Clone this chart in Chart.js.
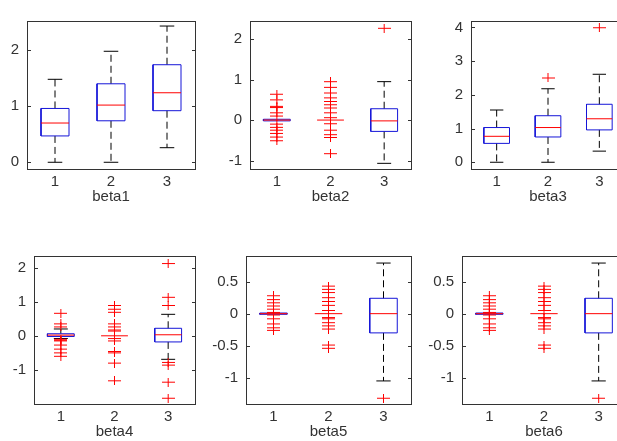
<!DOCTYPE html>
<html>
<head>
<meta charset="utf-8">
<script src="https://cdn.jsdelivr.net/npm/chart.js@4"></script>
<style>
  html, body { margin: 0; background: #fff; overflow: hidden; }
  #fig { position: relative; width: 617px; height: 441px; overflow: hidden; }
  #fig canvas { position: absolute; }
</style>
</head>
<body>
<div id="fig"></div>
<script>
// values (one entry per subplot, three groups each)
const categories = ['1', '2', '3'];
const titles = ['beta1', 'beta2', 'beta3', 'beta4', 'beta5', 'beta6'];
const yTicks = [[0, 1, 2], [-1, 0, 1, 2], [0, 1, 2, 3, 4], [-1, 0, 1, 2], [-1, -0.5, 0, 0.5], [-1, -0.5, 0, 0.5]];
const yLimits = [[-0.12, 2.52], [-1.21, 2.45], [-0.2, 4.19], [-2.0, 2.34], [-1.41, 0.9], [-1.41, 0.9]];

const lowerWhisker = [[0, 0, 0.26], [-0.02, 0, -1.07], [0, 0, 0.33], [-0.08, 0, -0.69], [-0.01, 0, -1.05], [-0.01, 0, -1.05]];
const q1 = [[0.47, 0.74, 0.92], [-0.02, 0, -0.28], [0.56, 0.75, 0.96], [-0.02, 0, -0.18], [-0.01, 0, -0.3], [-0.01, 0, -0.3]];
const median = [[0.7, 1.02, 1.24], [0, 0, -0.02], [0.77, 1.03, 1.29], [0.02, 0, 0.03], [0, 0, 0], [0, 0, 0]];
const q3 = [[0.96, 1.4, 1.74], [0.02, 0, 0.28], [1.03, 1.38, 1.72], [0.06, 0, 0.22], [0.01, 0, 0.24], [0.01, 0, 0.24]];
const upperWhisker = [[1.48, 1.98, 2.43], [0.02, 0, 0.95], [1.55, 2.18, 2.61], [0.2, 0, 0.63], [0.01, 0, 0.79], [0.01, 0, 0.79]];

const outliers = [
  [[], [], []],
  [[0.64, 0.5, 0.34, 0.31, 0.18, 0.1, -0.1, -0.18, -0.25, -0.33, -0.42, -0.51],
   [0.95, 0.81, 0.67, 0.55, 0.46, 0.38, 0.3, 0.18, 0.06, -0.09, -0.25, -0.36, -0.43, -0.83],
   [2.27]],
  [[], [2.5], [3.99]],
  [[0.66, 0.35, 0.26, -0.1, -0.13, -0.15, -0.27, -0.39, -0.5, -0.6],
   [0.89, 0.78, 0.69, 0.35, 0.26, 0.17, 0.14, -0.08, -0.15, -0.46, -0.5, -0.8, -1.32],
   [2.12, 1.13, 0.89, -0.78, -0.86, -1.36, -1.83]],
  [[0.28, 0.22, 0.17, 0.12, 0.07, 0.02, -0.02, -0.08, -0.16, -0.22, -0.26],
   [0.43, 0.38, 0.33, 0.25, 0.19, 0.13, 0.05, -0.06, -0.08, -0.14, -0.19, -0.24, -0.49, -0.54],
   [-1.32]],
  [[0.28, 0.22, 0.17, 0.12, 0.07, 0.02, -0.02, -0.08, -0.16, -0.22, -0.26],
   [0.43, 0.38, 0.33, 0.25, 0.19, 0.13, 0.05, -0.06, -0.08, -0.14, -0.19, -0.24, -0.49, -0.54],
   [-1.32]],
];

// plot area of each subplot on the page: left, top, right, bottom
const panelBoxes = [
  [27, 14, 195, 169], [250, 14, 411, 169], [471, 14, 625, 169],
  [34, 249, 195, 404], [246, 249, 411, 404], [462, 249, 626, 404],
];
const AXIS_W = 40, AXIS_H = 40, PAD = 10;
const BOX_HALF = 0.25, CAP_HALF = 0.13;
const FONT = { family: '"Liberation Sans", Arial, sans-serif', size: 15 };

// red "+" marker, a bit wider than tall like in the picture
const plus = document.createElement('canvas');
plus.width = 13;
plus.height = 9;
const g = plus.getContext('2d');
g.strokeStyle = '#ff0000';
g.lineWidth = 1;
g.beginPath();
g.moveTo(0, 4.5); g.lineTo(13, 4.5);
g.moveTo(6.5, 0); g.lineTo(6.5, 9);
g.stroke();

// polylines -> one dataset, broken by null points
function polylines(list) {
  const out = [];
  list.forEach((pts) => {
    pts.forEach(([x, y]) => out.push({ x, y }));
    out.push({ x: pts[0][0], y: null });
  });
  return out;
}

const frame = {
  id: 'frame',
  afterDraw(chart) {
    const { ctx, chartArea: a, scales: { y } } = chart;
    ctx.save();
    ctx.strokeStyle = '#333';
    ctx.lineWidth = 1;
    ctx.strokeRect(a.left + 0.5, a.top + 0.5, a.right - a.left, a.bottom - a.top);
    ctx.beginPath();
    y.ticks.forEach((tk) => {
      const py = Math.round(y.getPixelForValue(tk.value)) + 0.5;
      ctx.moveTo(a.left, py); ctx.lineTo(a.left + 4, py);
      ctx.moveTo(a.right + 1, py); ctx.lineTo(a.right - 3, py);
    });
    ctx.stroke();
    ctx.restore();
  },
};

const fig = document.getElementById('fig');

panelBoxes.forEach(([l, t, r, b], p) => {
  const cv = document.createElement('canvas');
  cv.width = (r - l) + AXIS_W + PAD;
  cv.height = (b - t) + AXIS_H + PAD;
  cv.style.left = (l - AXIS_W) + 'px';
  cv.style.top = (t - PAD) + 'px';
  fig.appendChild(cv);

  const boxes = [], meds = [], whisk = [], caps = [], outs = [];
  categories.forEach((c, i) => {
    const x = i + 1;
    // a zero-height box (and its zero-length whiskers) sits under the median line
    if (q3[p][i] > q1[p][i]) {
      boxes.push([[x - BOX_HALF, q1[p][i]], [x + BOX_HALF, q1[p][i]], [x + BOX_HALF, q3[p][i]],
        [x - BOX_HALF, q3[p][i]], [x - BOX_HALF, q1[p][i]]]);
    }
    meds.push([[x - BOX_HALF, median[p][i]], [x + BOX_HALF, median[p][i]]]);
    if (upperWhisker[p][i] > q3[p][i]) {
      whisk.push([[x, q3[p][i]], [x, upperWhisker[p][i]]]);
      caps.push([[x - CAP_HALF, upperWhisker[p][i]], [x + CAP_HALF, upperWhisker[p][i]]]);
    }
    if (lowerWhisker[p][i] < q1[p][i]) {
      whisk.push([[x, q1[p][i]], [x, lowerWhisker[p][i]]]);
      caps.push([[x - CAP_HALF, lowerWhisker[p][i]], [x + CAP_HALF, lowerWhisker[p][i]]]);
    }
    outliers[p][i].forEach((v) => outs.push({ x, y: v }));
  });

  const line = { showLine: true, pointRadius: 0, borderWidth: 1, spanGaps: false, tension: 0 };

  new Chart(cv, {
    type: 'scatter',
    data: {
      datasets: [
        { label: 'outliers', data: outs, pointStyle: plus, pointRadius: 5, clip: false },
        { ...line, label: 'median', data: polylines(meds), borderColor: '#ff0000' },
        { ...line, label: 'box', data: polylines(boxes), borderColor: '#1515d8' },
        { ...line, label: 'caps', data: polylines(caps), borderColor: '#000' },
        { ...line, label: 'whiskers', data: polylines(whisk), borderColor: '#000', borderDash: [7, 4] },
      ],
    },
    options: {
      responsive: false,
      animation: false,
      events: [],
      layout: { padding: { top: PAD, right: PAD, left: 0, bottom: 0 } },
      plugins: { legend: { display: false }, tooltip: { enabled: false } },
      scales: {
        x: {
          type: 'linear',
          min: 0.5,
          max: 3.5,
          grid: { display: false, drawTicks: false },
          border: { display: false },
          afterBuildTicks: (s) => { s.ticks = categories.map((c, i) => ({ value: i + 1 })); },
          afterFit: (s) => { s.height = AXIS_H; },
          ticks: { color: '#333', font: FONT, padding: 4, maxRotation: 0, callback: (v) => categories[v - 1] },
          title: { display: true, text: titles[p], color: '#333', font: FONT, padding: { top: 0, bottom: 3 } },
        },
        y: {
          type: 'linear',
          min: yLimits[p][0],
          max: yLimits[p][1],
          grid: { display: false, drawTicks: false },
          border: { display: false },
          afterBuildTicks: (s) => { s.ticks = yTicks[p].map((v) => ({ value: v })); },
          afterFit: (s) => { s.width = AXIS_W; },
          ticks: { color: '#333', font: FONT, padding: 8, callback: (v) => String(v) },
        },
      },
    },
    plugins: [frame],
  });
});
</script>
</body>
</html>
